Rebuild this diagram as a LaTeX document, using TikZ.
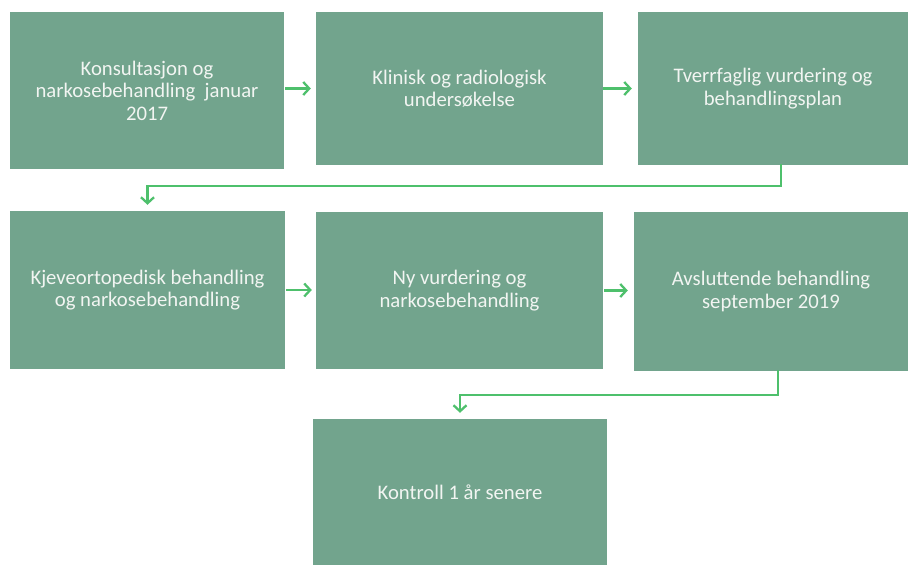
\documentclass[tikz,border=0pt]{standalone}
\usepackage{fontspec}
\setmainfont{Carlito}
\usetikzlibrary{arrows.meta}
\definecolor{boxfill}{HTML}{72A48D}
\definecolor{arrowgreen}{HTML}{4EC06C}
\definecolor{boxtext}{HTML}{F2F5F2}
\begin{document}
\begin{tikzpicture}[x=1pt,y=-1pt,
  box/.style={fill=boxfill, draw=none, text=boxtext, inner sep=0pt, align=center,
    font=\fontsize{20.7}{22.5}\selectfont},
  arr/.style={draw=arrowgreen, line width=2.3pt, line cap=rect,
    -{Straight Barb[length=6pt,width=13pt]}}]
\useasboundingbox (0,0) rectangle (908,565);
\node[box, minimum width=274pt, minimum height=157pt] (b1) at (147,90.5)
  {Konsultasjon og\\narkosebehandling~ januar\\2017};
\node[box, minimum width=287pt, minimum height=153pt] (b2) at (459.5,88.5)
  {Klinisk og radiologisk\\undersøkelse};
\node[box, minimum width=270pt, minimum height=153pt] (b3) at (773,88.5)
  {Tverrfaglig vurdering og\\behandlingsplan};
\node[box, minimum width=275pt, minimum height=158pt] (b4) at (147.5,290)
  {Kjeveortopedisk behandling\\og narkosebehandling};
\node[box, minimum width=287pt, minimum height=157pt] (b5) at (459.5,290.5)
  {Ny vurdering og\\narkosebehandling};
\node[box, minimum width=274pt, minimum height=159pt] (b6) at (771,291.5)
  {Avsluttende behandling\\september 2019};
\node[box, minimum width=294pt, minimum height=146pt] (b7) at (460,492)
  {Kontroll 1 år senere};
\draw[arr, shorten <=2pt, shorten >=5pt] (b1.east |- b2.center) -- (b2.west);
\draw[arr, shorten <=1pt, shorten >=6pt] (b2.east) -- (b3.west |- b2.east);
\draw[arr, shorten <=2pt, shorten >=4pt] (b4.east) -- (b5.west |- b4.east);
\draw[arr, shorten <=2pt, shorten >=6pt] (b5.east) -- (b6.west |- b5.east);
\draw[arr, shorten >=6pt] ([xshift=8pt]b3.south) -- ++(0,21) -| (b4.north);
\draw[arr, shorten >=6pt] ([xshift=7pt]b6.south) -- ++(0,24) -| (b7.north);
\end{tikzpicture}
\end{document}
